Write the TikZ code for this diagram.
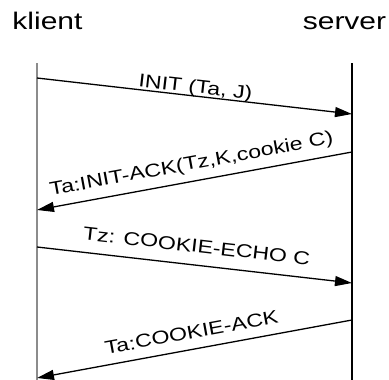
\documentclass[tikz,border=0pt]{standalone}
\usepackage{fontspec}
\setmainfont{Liberation Sans}
\newfontfamily\widesans[FakeStretch=1.25]{Liberation Sans}
\usetikzlibrary{arrows.meta}
\tikzset{>={Triangle[width=10pt,length=17pt]}}
\tikzset{
  lifeline/.style={line width=1.4pt},
  msg/.style={->, line width=1.3pt},
  msglabel/.style={midway, sloped, inner sep=0pt, text depth=0pt,
    font=\widesans\fontsize{18.5}{20}\selectfont},
  party/.style={inner sep=0pt, text depth=0pt, anchor=base,
    font=\widesans\fontsize{24}{28}\selectfont}
}

\begin{document}
\begin{tikzpicture}[x=1pt, y=-1pt]
  \useasboundingbox (0,0) rectangle (389,380);

  \newcommand\KX{37}
  \newcommand\SX{352}

  \node[party] (klient) at (47.5,30) {klient};
  \node[party] (server) at (344.5,30) {server};

  % lifelines
  \coordinate (ktop) at (\KX,63);
  \coordinate (kbot) at (\KX,380);
  \coordinate (stop) at (\SX,63);
  \coordinate (sbot) at (\SX,380);
  \draw[lifeline, black!45] (ktop) -- (kbot);
  \draw[lifeline] (stop) -- (sbot);

  % messages
  \coordinate (k1) at (\KX,78);  \coordinate (s1) at (\SX,114);
  \coordinate (s2) at (\SX,152); \coordinate (k2) at (\KX,210);
  \coordinate (k3) at (\KX,247); \coordinate (s3) at (\SX,283);
  \coordinate (s4) at (\SX,320); \coordinate (k4) at (\KX,378);

  \draw[msg] (k1) -- node[msglabel, above=2.5pt] (init) {INIT (Ta, J)} (s1);
  \draw[msg] (s2) -- node[msglabel, above=11pt] (initack) {Ta:INIT-ACK(Tz,K,cookie C)} (k2);
  \draw[msg] (k3) -- node[msglabel, above=12pt] (echo) {Tz: COOKIE-ECHO C} (s3);
  \draw[msg] (s4) -- node[msglabel, above=10pt] (cack) {Ta:COOKIE-ACK} (k4);
\end{tikzpicture}
\end{document}
